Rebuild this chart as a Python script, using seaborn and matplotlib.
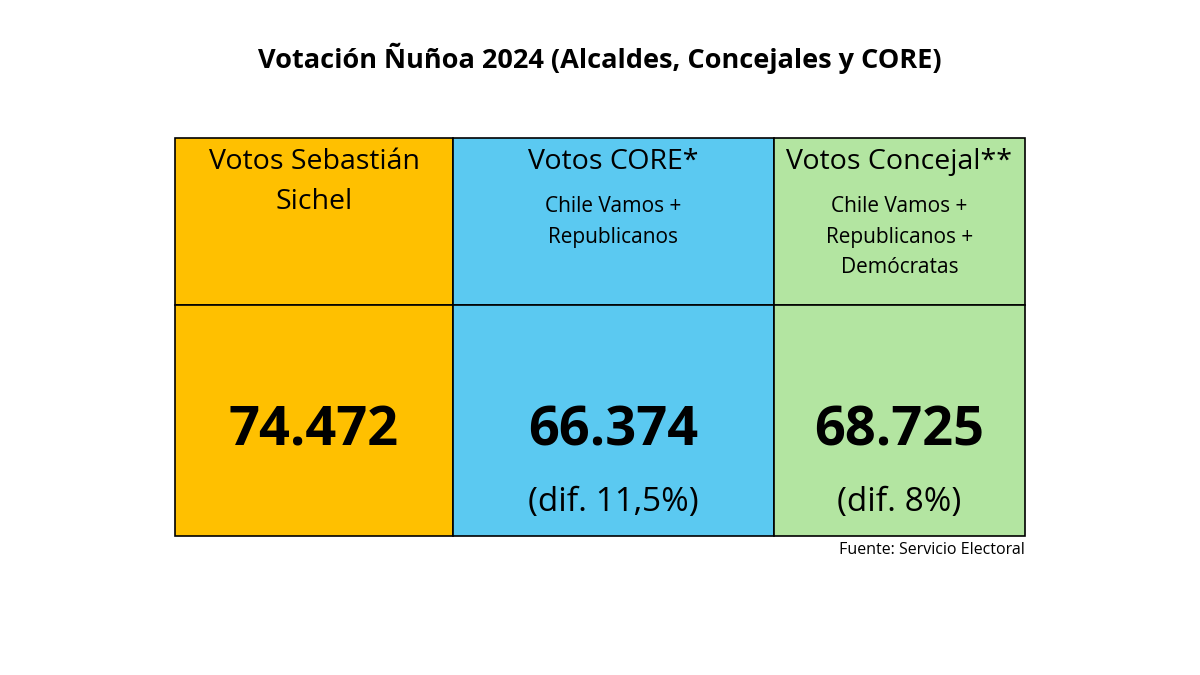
import matplotlib
matplotlib.use("Agg")
import matplotlib.pyplot as plt
import seaborn as sns
from matplotlib.patches import Rectangle

sns.set_theme(style="white")
plt.rcParams["font.family"] = "Open Sans"
plt.rcParams["text.color"] = "black"

headers = ["Votos Sebastián\nSichel", "Votos CORE*", "Votos Concejal**"]
subtitles = ["", "Chile Vamos +\nRepublicanos", "Chile Vamos +\nRepublicanos +\nDemócratas"]
votes = [74472, 66374, 68725]
diffs = ["", "(dif. 11,5%)", "(dif. 8%)"]
colors = ["#FFC000", "#5BC9F1", "#B3E5A1"]

def fmt(v):
    return f"{v:,}".replace(",", ".")

fig = plt.figure(figsize=(12, 6.75), dpi=100)
fig.text(0.5, 1 - 58/675, "Votación Ñuñoa 2024 (Alcaldes, Concejales y CORE)",
         ha="center", va="center", fontsize=19.5, fontweight="bold", color="black")
ax = fig.add_axes([175/1200, (675-536)/675, 850/1200, 398/675])
ax.set_xlim(0, 850); ax.set_ylim(398, 0); ax.axis("off")
widths = [278, 321, 251]
x0 = 0
for i in range(3):
    w = widths[i]
    for (y, h) in [(0, 167), (167, 231)]:
        ax.add_patch(Rectangle((x0, y), w, h, facecolor=colors[i], edgecolor="black",
                               lw=1.2, clip_on=False))
    cx = x0 + w/2
    ax.text(cx, 10, headers[i], ha="center", va="top", fontsize=20.5, linespacing=1.55, color="black")
    if subtitles[i]:
        ax.text(cx, 58, subtitles[i], ha="center", va="top", fontsize=15, linespacing=1.6, color="black")
    ax.text(cx, 294, fmt(votes[i]), ha="center", va="center", fontsize=39, fontweight="bold", color="black")
    if diffs[i]:
        ax.text(cx, 365, diffs[i], ha="center", va="center", fontsize=24, color="black")
    x0 += w
fig.text(1025/1200, 1 - 550/675, "Fuente: Servicio Electoral", ha="right", va="center",
         fontsize=11.5, color="black")
fig.savefig("out.png", dpi=100)
